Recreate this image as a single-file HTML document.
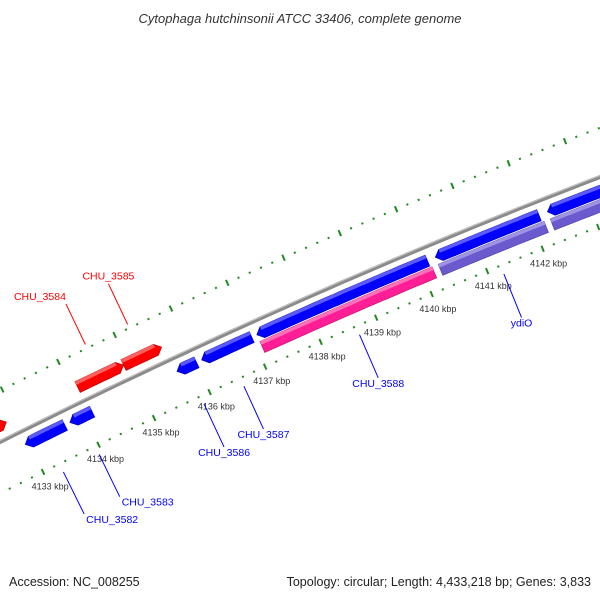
<!DOCTYPE html>
<html><head><meta charset="utf-8"><style>
html,body{margin:0;padding:0;background:#fff}
svg{display:block;font-family:"Liberation Sans","DejaVu Sans",sans-serif}
</style></head><body>
<svg id="map" width="600" height="600" viewBox="0 0 600 600" xmlns="http://www.w3.org/2000/svg">
<rect width="600" height="600" fill="#fff"/>
<text x="300" y="23" text-anchor="middle" font-style="italic" font-size="13" fill="#333">Cytophaga hutchinsonii ATCC 33406, complete genome</text>
<g id="ticks"></g>
<g id="backbone"></g>
<g id="genes"></g>
<g id="labels"></g>
<text x="9" y="586" font-size="12.5" fill="#222">Accession: NC_008255</text>
<text x="591" y="586" text-anchor="end" font-size="12.5" fill="#222">Topology: circular; Length: 4,433,218 bp; Genes: 3,833</text>
</svg>
<script>
// gene data (kbp)
const geneStart = [4132.3, 4132.94, 4133.74, 4134.10, 4134.92, 4135.66, 4136.10, 4137.09, 4137.09, 4140.29, 4140.29, 4142.30, 4142.30];
const geneEnd   = [4132.83, 4133.65, 4134.14, 4134.92, 4135.60, 4136.01, 4137.00, 4140.15, 4140.18, 4142.15, 4142.19, 4144.5, 4144.5];
const geneStrand = [1, -1, -1, 1, 1, -1, -1, -1, 0, -1, 0, -1, 0];
const geneRow = [1, 1, 1, 1, 1, 1, 1, 1, 2, 1, 2, 1, 2];
const geneColor = ["red","blue","blue","red","red","blue","blue","blue","pink","blue","purple","blue","purple"];
const geneLabel = ["", "CHU_3582", "CHU_3583", "CHU_3584", "CHU_3585", "CHU_3586", "CHU_3587", "", "CHU_3588", "", "ydiO", "", ""];
const labelAnchor = ["", "start", "start", "end", "middle", "middle", "middle", "", "middle", "", "middle", "", ""];
// tick data
const tickStart = 4132.0, tickEnd = 4144.0, tickMinorStep = 0.2;
const tickLabelKbp = [4133, 4134, 4135, 4136, 4137, 4138, 4139, 4140, 4141, 4142];

const NS = "http://www.w3.org/2000/svg";
function by(x){return 442-0.5005*x+0.0000981*x*x;}
function pos(k,d){
  const xb=22.6+(k-4133)*55.9;
  const s=-0.5005+2*0.0000981*xb;
  const L=Math.sqrt(1+s*s);
  return [xb+(-s/L)*d, by(xb)+(1/L)*d];
}
function mk(tag,attrs,parent){const e=document.createElementNS(NS,tag);for(const k in attrs)e.setAttribute(k,attrs[k]);parent.appendChild(e);return e;}
function pline(k0,k1,d,n){const p=[];for(let i=0;i<=n;i++){const k=k0+(k1-k0)*i/n;p.push(pos(k,d));}return p;}
function ptsStr(p){return p.map(q=>q[0].toFixed(1)+","+q[1].toFixed(1)).join(" ");}

// backbone
const bbG=document.getElementById("backbone");
const bb=mk("polyline",{points:ptsStr(pline(4132.3,4144.3,0,60)),fill:"none",stroke:"#8a8a8a","stroke-width":4},bbG);


const bbh=mk("polyline",{points:ptsStr(pline(4132.3,4144.3,-1.3,60)),fill:"none",stroke:"#c4c4c4","stroke-width":1},bbG);



// ticks
const tG=document.getElementById("ticks");
const nT=Math.round((tickEnd-tickStart)/tickMinorStep);
[-46,46].forEach(ring=>{
  for(let i=0;i<=nT;i++){
    const k=tickStart+i*tickMinorStep;
    const major=(i%5===0);
    const h=major?3.2:1;
    const a=pos(k,ring-h), b=pos(k,ring+h);
    const t=mk("line",{x1:a[0],y1:a[1],x2:b[0],y2:b[1],stroke:"#1f8a1f","stroke-width":major?2:2},tG);
    
    
  }
});
tickLabelKbp.forEach(k=>{
  const p=pos(k,62);
  const t=mk("text",{x:p[0],y:p[1]+3,"text-anchor":"middle","font-size":"9",fill:"#333"},tG);
  t.textContent=k+" kbp";
  
  
});

// genes
const colors={red:["#ff0000","#ff6060","#b00000"],blue:["#0000ff","#5a5aff","#0000a8"],pink:["#ff1e96","#ff70bb","#b80c68"],purple:["#6a5acd","#9d92e3","#4a3c9a"]};
const gG=document.getElementById("genes");
const labG=document.getElementById("labels");
const HL=0.1, HW=6;
for(let i=0;i<geneStart.length;i++){
  const s=geneStart[i], e=geneEnd[i], st=geneStrand[i];
  const d = st===1 ? -15 : (geneRow[i]===2 ? 27 : 13.5);
  const c=colors[geneColor[i]];
  const n=Math.max(4,Math.ceil((e-s)*8));
  let poly=[], strip=[];
  if(st===-1){
    const s2=s+HL;
    poly=[pos(s,d)].concat(pline(s2,e,d-HW,n)).concat(pline(e,s2,d+HW,n));
    strip=pline(s2,e,d-HW,n).concat(pline(e,s2,d-HW+3.5,n));
  }else if(st===1){
    const e2=e-HL;
    poly=pline(s,e2,d-HW,n).concat([pos(e,d)]).concat(pline(e2,s,d+HW,n));
    strip=pline(s,e2,d-HW,n).concat(pline(e2,s,d-HW+3.5,n));
  }else{
    poly=pline(s,e,d-HW,n).concat(pline(e,s,d+HW,n));
    strip=pline(s,e,d-HW,n).concat(pline(e,s,d-HW+3.5,n));
  }
  const g=mk("g",{},gG);
  
  
  mk("polygon",{points:ptsStr(poly),fill:c[0],stroke:c[2],"stroke-width":0.6},g);
  mk("polygon",{points:ptsStr(strip),fill:c[1]},g);
  if(geneLabel[i]){
    const m=(s+e)/2;
    const tc = st===1 ? "#ff0000" : "#0000ff";
    let a,b,tx,ty;
    if(st===1){a=pos(m,-50);b=pos(m,-95);tx=b[0];ty=b[1]-4;}
    else{a=pos(m,55);b=pos(m,102);tx=b[0]+(labelAnchor[i]==="start"?2:0);ty=b[1]+9;}
    const ln=mk("line",{x1:a[0],y1:a[1],x2:b[0],y2:b[1],stroke:tc,"stroke-width":1},labG);
    
    
    const t=mk("text",{x:tx,y:ty,"text-anchor":labelAnchor[i],"font-size":"10.5",fill:tc},labG);
    t.textContent=geneLabel[i];
    
    
  }
}
</script>
</body></html>
